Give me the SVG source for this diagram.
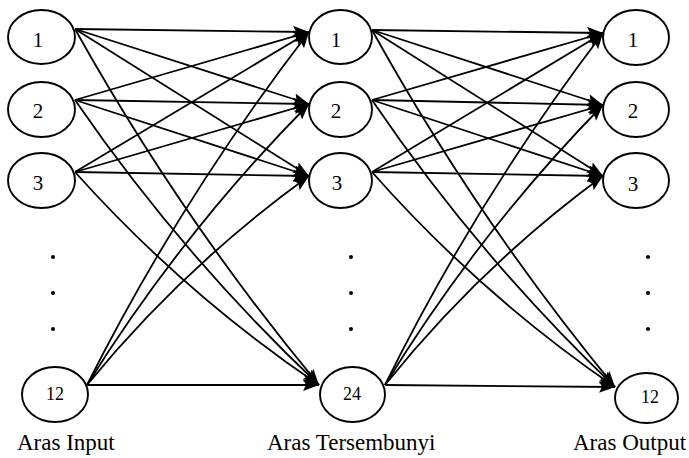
<svg xmlns="http://www.w3.org/2000/svg" width="689" height="458" viewBox="0 0 689 458">
<style>
.node ellipse{fill:#fff;stroke:#000;stroke-width:1.9}
.num{font-size:21px;text-anchor:middle;fill:#000}
.num.s{font-size:18px}
.lbl{font-size:23px;fill:#000}
#edges path{fill:none;stroke:#000;stroke-width:1.8;marker-end:url(#ah)}
.dot{fill:#000}
</style>
<defs>
<marker id="ah" markerUnits="userSpaceOnUse" markerWidth="17" markerHeight="13" refX="16" refY="6" orient="auto" viewBox="0 0 17 13">
<path d="M0,0 L16,6 L0,12 L3,6 Z" fill="#000"/>
</marker>
</defs>
<rect width="689" height="458" fill="#fff"/>
<g id="edges">
<path d="M75,29 L309,32"/>
<path d="M75,29 L309,104"/>
<path d="M75,29 L309,176"/>
<path d="M75,29 Q180.5,218 319,385"/>
<path d="M75,100 L309,32"/>
<path d="M75,100 L309,104"/>
<path d="M75,100 L309,176"/>
<path d="M75,100 Q181.8,255.5 319,385"/>
<path d="M75,172 L309,32"/>
<path d="M75,172 L309,104"/>
<path d="M75,172 L309,176"/>
<path d="M75,172 Q183.9,293.6 319,385"/>
<path d="M87,385 Q181,198 309,32"/>
<path d="M87,385 Q182.3,232.1 309,104"/>
<path d="M87,385 Q184.3,266 309,176"/>
<path d="M87,385 L319,385"/>
<path d="M372,30 L603,33"/>
<path d="M372,30 L603,105"/>
<path d="M372,30 L603,176"/>
<path d="M372,30 Q477,219.7 615,387"/>
<path d="M372,100 L603,33"/>
<path d="M372,100 L603,105"/>
<path d="M372,100 L603,176"/>
<path d="M372,100 Q478.2,256.4 615,387"/>
<path d="M372,172 L603,33"/>
<path d="M372,172 L603,105"/>
<path d="M372,172 L603,176"/>
<path d="M372,172 Q480.2,294.5 615,387"/>
<path d="M385,385 Q477,198.5 603,33"/>
<path d="M385,385 Q478.2,232.7 603,105"/>
<path d="M385,385 Q480.2,266.1 603,176"/>
<path d="M385,385 L615,387"/>
</g>
<g font-family="'Liberation Serif', 'Times New Roman', 'DejaVu Serif', serif">
<g id="in1" class="node"><ellipse cx="41.5" cy="37" rx="33.5" ry="27"/><text class="num" x="38" y="47">1</text></g>
<g id="in2" class="node"><ellipse cx="41.5" cy="109.5" rx="33.5" ry="27.5"/><text class="num" x="38" y="118">2</text></g>
<g id="in3" class="node"><ellipse cx="41.5" cy="180.5" rx="33.5" ry="27.5"/><text class="num" x="38" y="190">3</text></g>
<g id="in12" class="node"><ellipse cx="55" cy="394.5" rx="33" ry="27.5"/><text class="num s" x="55" y="400">12</text></g>
<g id="h1" class="node"><ellipse cx="340.5" cy="37" rx="31.5" ry="27"/><text class="num" x="336" y="47">1</text></g>
<g id="h2" class="node"><ellipse cx="340.5" cy="109.5" rx="31.5" ry="27.5"/><text class="num" x="336" y="118">2</text></g>
<g id="h3" class="node"><ellipse cx="340.5" cy="180.5" rx="31.5" ry="27.5"/><text class="num" x="337" y="190">3</text></g>
<g id="h24" class="node"><ellipse cx="352.5" cy="394.5" rx="32.5" ry="27.5"/><text class="num s" x="352" y="400">24</text></g>
<g id="o1" class="node"><ellipse cx="636" cy="37.5" rx="33" ry="27.5"/><text class="num" x="633" y="47">1</text></g>
<g id="o2" class="node"><ellipse cx="636" cy="109.5" rx="33" ry="27.5"/><text class="num" x="633" y="118">2</text></g>
<g id="o3" class="node"><ellipse cx="636" cy="180.5" rx="33" ry="27.5"/><text class="num" x="633" y="191">3</text></g>
<g id="o12" class="node"><ellipse cx="646.5" cy="398" rx="31.5" ry="25"/><text class="num s" x="650" y="403">12</text></g>
<g id="labels">
<text class="lbl" x="17" y="450">Aras Input</text>
<text class="lbl" x="267" y="450">Aras Tersembunyi</text>
<text class="lbl" x="573" y="450">Aras Output</text>
</g>
</g>
<g id="dots">
<circle class="dot" cx="53" cy="257" r="2"/><circle class="dot" cx="53" cy="293" r="2"/><circle class="dot" cx="53" cy="329" r="2"/>
<circle class="dot" cx="351" cy="257" r="2"/><circle class="dot" cx="351" cy="293" r="2"/><circle class="dot" cx="351" cy="329" r="2"/>
<circle class="dot" cx="648" cy="257" r="2"/><circle class="dot" cx="648" cy="293" r="2"/><circle class="dot" cx="648" cy="329" r="2"/>
</g>
</svg>
